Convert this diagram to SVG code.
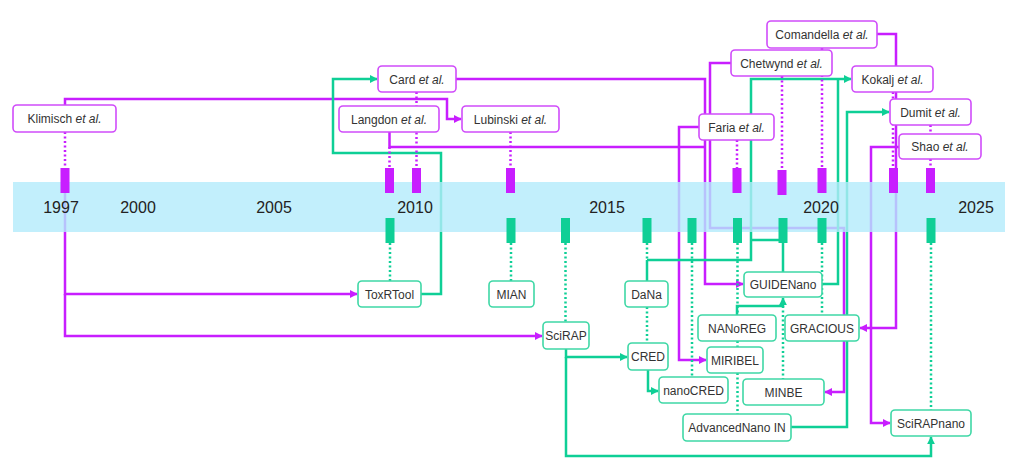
<svg xmlns="http://www.w3.org/2000/svg" width="1024" height="471" viewBox="0 0 1024 471">
<style>
.m{fill:none;stroke:#c81eff;stroke-width:2.5}
.g{fill:none;stroke:#0fcf96;stroke-width:2.5}
.md{fill:none;stroke:#c81eff;stroke-width:2.5;stroke-dasharray:2 2.5}
.gd{fill:none;stroke:#0fcf96;stroke-width:2.5;stroke-dasharray:2 2.5}
.am{marker-end:url(#arM)}
.ag{marker-end:url(#arG)}
.bm{fill:#fff;stroke:#d04cfa;stroke-width:1.6}
.bg{fill:#fff;stroke:#3fd8a6;stroke-width:1.6}
.t{font-family:"Liberation Sans",Arial,sans-serif;font-size:12px;fill:#333;text-anchor:middle}
.yr{font-family:"Liberation Sans",Arial,sans-serif;font-size:16px;fill:#222;text-anchor:middle}
.tm{fill:#c81eff}
.tg{fill:#0fcf96}
</style>
<defs>
<marker id="arM" viewBox="0 0 10 10" refX="9" refY="5" markerWidth="8" markerHeight="8" markerUnits="userSpaceOnUse" orient="auto"><path d="M0,0 L10,5 L0,10 z" fill="#c81eff"/></marker>
<marker id="arG" viewBox="0 0 10 10" refX="9" refY="5" markerWidth="8" markerHeight="8" markerUnits="userSpaceOnUse" orient="auto"><path d="M0,0 L10,5 L0,10 z" fill="#0fcf96"/></marker>
</defs>
<rect width="1024" height="471" fill="#fff"/>
<g id="connectors">
<path class="m am" d="M65,105 V99 H447 V119 H461"/>
<path class="m am" d="M65,193 V294 H357"/>
<path class="m am" d="M65,294 V336 H542"/>
<path class="m am" d="M456,79 H705 V284 H743"/>
<path class="m" d="M389.5,132 V147 H705"/>
<path class="m am" d="M699,127 H679 V360 H706"/>
<path class="m am" d="M731,63 H710 V228 H844 V392 H825"/>
<path class="m am" d="M877,34 H896 V328 H860"/>
<path class="m am" d="M899,147 H871 V423 H890"/>
<path class="g ag" d="M421,294 H441 V153 H333 V79 H377"/>
<path class="g ag" d="M647,260 H751 V79 H851"/>
<path class="g" d="M647,260 V281"/>
<path class="g" d="M783,272 V240 H751"/>
<path class="g" d="M822,284 H838 V79"/>
<path class="g ag" d="M791,427 H847 V112 H889"/>
<path class="g ag" d="M566,349 V357 H627"/>
<path class="g ag" d="M566,357 V456 H931 V437"/>
<path class="g ag" d="M648,370 V391 H658"/>
<path class="g ag" d="M737,315 V306 H783 V298"/>
<path class="md" d="M65,132 V168"/>
<path class="md" d="M416.5,92 V168"/>
<path class="md" d="M389.5,147 V168"/>
<path class="md" d="M510.5,132 V168"/>
<path class="md" d="M737,140 V168"/>
<path class="md" d="M782,76 V170"/>
<path class="md" d="M822,48 V168"/>
<path class="md" d="M893,92 V168"/>
<path class="md" d="M930.5,125 V134 M930.5,159 V168"/>
<path class="gd" d="M390,243 V281"/>
<path class="gd" d="M511,243 V281"/>
<path class="gd" d="M565.5,243 V322"/>
<path class="gd" d="M647,243 V260 M647,307 V343"/>
<path class="gd" d="M692,243 V377"/>
<path class="gd" d="M737.5,243 V315 M737.5,341 V347 M737.5,373 V414"/>
<path class="gd" d="M783,306 V379"/>
<path class="gd" d="M822,243 V315"/>
<path class="gd" d="M931,243 V410"/>
</g>
<g id="timeline">
<rect x="13" y="182" width="992" height="50" fill="#b3ebfb" fill-opacity="0.8"/>
<rect class="tm" x="60.5" y="168" width="9" height="25"/>
<rect class="tm" x="385" y="168" width="9" height="25"/>
<rect class="tm" x="412" y="168" width="9" height="25"/>
<rect class="tm" x="506" y="168" width="9" height="25"/>
<rect class="tm" x="732.5" y="168" width="9" height="25"/>
<rect class="tm" x="777.5" y="170" width="9" height="25"/>
<rect class="tm" x="817.5" y="168" width="9" height="25"/>
<rect class="tm" x="889" y="168" width="9" height="25"/>
<rect class="tm" x="926" y="168" width="9" height="25"/>
<rect class="tg" x="385.5" y="218" width="9" height="25"/>
<rect class="tg" x="506.5" y="218" width="9" height="25"/>
<rect class="tg" x="561" y="218" width="9" height="25"/>
<rect class="tg" x="642.5" y="218" width="9" height="25"/>
<rect class="tg" x="687.5" y="218" width="9" height="25"/>
<rect class="tg" x="733" y="218" width="9" height="25"/>
<rect class="tg" x="778.5" y="218" width="9" height="25"/>
<rect class="tg" x="817.5" y="218" width="9" height="25"/>
<rect class="tg" x="926.5" y="218" width="9" height="25"/>
<text class="yr" x="61" y="213">1997</text>
<text class="yr" x="138" y="213">2000</text>
<text class="yr" x="274" y="213">2005</text>
<text class="yr" x="415" y="213">2010</text>
<text class="yr" x="607" y="213">2015</text>
<text class="yr" x="821" y="213">2020</text>
<text class="yr" x="976" y="213">2025</text>
</g>
<g id="klimisch"><rect class="bm" x="13" y="105" width="103" height="27" rx="4"/><text class="t" x="64.5" y="123">Klimisch <tspan font-style="italic">et al.</tspan></text></g>
<g id="card"><rect class="bm" x="378" y="66" width="78" height="26" rx="4"/><text class="t" x="417" y="83.5">Card <tspan font-style="italic">et al.</tspan></text></g>
<g id="langdon"><rect class="bm" x="339" y="106" width="100" height="26" rx="4"/><text class="t" x="389" y="123.5">Langdon <tspan font-style="italic">et al.</tspan></text></g>
<g id="lubinski"><rect class="bm" x="462" y="106" width="97" height="26" rx="4"/><text class="t" x="510.5" y="123.5">Lubinski <tspan font-style="italic">et al.</tspan></text></g>
<g id="faria"><rect class="bm" x="699" y="114" width="75" height="26" rx="4"/><text class="t" x="736.5" y="131.5">Faria <tspan font-style="italic">et al.</tspan></text></g>
<g id="chetwynd"><rect class="bm" x="731" y="50" width="101" height="26" rx="4"/><text class="t" x="781.5" y="67.5">Chetwynd <tspan font-style="italic">et al.</tspan></text></g>
<g id="comandella"><rect class="bm" x="767" y="21" width="110" height="27" rx="4"/><text class="t" x="822" y="39">Comandella <tspan font-style="italic">et al.</tspan></text></g>
<g id="kokalj"><rect class="bm" x="852" y="66" width="81" height="26" rx="4"/><text class="t" x="892.5" y="83.5">Kokalj <tspan font-style="italic">et al.</tspan></text></g>
<g id="dumit"><rect class="bm" x="890" y="99" width="81" height="26" rx="4"/><text class="t" x="930.5" y="116.5">Dumit <tspan font-style="italic">et al.</tspan></text></g>
<g id="shao"><rect class="bm" x="899" y="134" width="82" height="25" rx="4"/><text class="t" x="940" y="151">Shao <tspan font-style="italic">et al.</tspan></text></g>
<g id="toxrtool"><rect class="bg" x="358" y="281" width="63" height="26" rx="4"/><text class="t" x="389.5" y="298.5">ToxRTool</text></g>
<g id="mian"><rect class="bg" x="489" y="281" width="45" height="26" rx="4"/><text class="t" x="511.5" y="298.5">MIAN</text></g>
<g id="scirap"><rect class="bg" x="543" y="322" width="46" height="27" rx="4"/><text class="t" x="566" y="340">SciRAP</text></g>
<g id="dana"><rect class="bg" x="625" y="281" width="43" height="26" rx="4"/><text class="t" x="646.5" y="298.5">DaNa</text></g>
<g id="cred"><rect class="bg" x="628" y="343" width="40" height="27" rx="4"/><text class="t" x="648" y="361">CRED</text></g>
<g id="nanocred"><rect class="bg" x="659" y="377" width="69" height="26" rx="4"/><text class="t" x="693.5" y="394.5">nanoCRED</text></g>
<g id="guidenano"><rect class="bg" x="744" y="272" width="78" height="25" rx="4"/><text class="t" x="783" y="289">GUIDENano</text></g>
<g id="nanoreg"><rect class="bg" x="698" y="315" width="78" height="26" rx="4"/><text class="t" x="737" y="332.5">NANoREG</text></g>
<g id="gracious"><rect class="bg" x="785" y="315" width="74" height="26" rx="4"/><text class="t" x="822" y="332.5">GRACIOUS</text></g>
<g id="miribel"><rect class="bg" x="707" y="347" width="56" height="26" rx="4"/><text class="t" x="735" y="364.5">MIRIBEL</text></g>
<g id="minbe"><rect class="bg" x="743" y="379" width="81" height="26" rx="4"/><text class="t" x="783.5" y="396.5">MINBE</text></g>
<g id="advancednano"><rect class="bg" x="683" y="414" width="108" height="27" rx="4"/><text class="t" x="737" y="432">AdvancedNano IN</text></g>
<g id="scirapnano"><rect class="bg" x="891" y="410" width="80" height="26" rx="4"/><text class="t" x="931" y="427.5">SciRAPnano</text></g>
</svg>
